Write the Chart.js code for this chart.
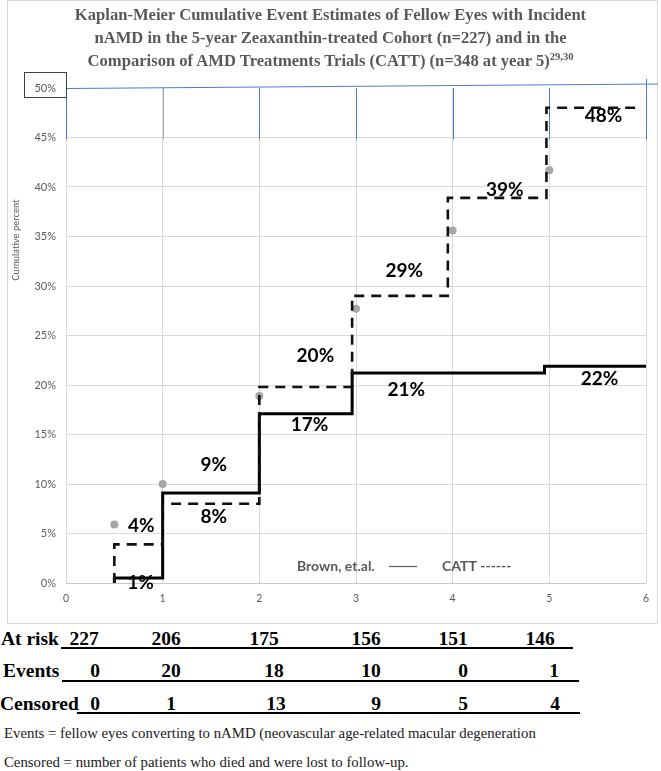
<!DOCTYPE html>
<html>
<head>
<meta charset="utf-8">
<script src="https://cdn.jsdelivr.net/npm/chart.js@4.4.1/dist/chart.umd.min.js"></script>
<style>
  body { margin: 0; background: #fff; }
  #page { position: relative; width: 661px; height: 771px; overflow: hidden; background: #fff; }
  #frame { position: absolute; left: 7px; top: 0; width: 651px; height: 624px; border: 1px solid #d9d9d9; box-sizing: border-box; }
  #title { position: absolute; left: 0; top: 3px; width: 661px; text-align: center;
           font: bold 16.6px "Liberation Serif", "Times New Roman", serif; color: #595959; line-height: 23px; }
  #title sup { font-size: 10.5px; line-height: 0; vertical-align: 6px; }
  #chartBox { position: absolute; left: 0; top: 0; width: 661px; height: 625px; }
  .cell { position: absolute; font: bold 19.5px "Liberation Serif", "Times New Roman", serif; color: #000; line-height: 19px; white-space: nowrap; }
  .rule { position: absolute; height: 2px; background: #000; }
  .note { position: absolute; left: 4px; font: 14.8px "Liberation Serif", "Times New Roman", serif; color: #1a1a1a; line-height: 15px; white-space: nowrap; }
</style>
</head>
<body>
<div id="page">
  <div id="frame"></div>
  <div id="chartBox"><canvas id="km-chart"></canvas></div>
  <div id="title">Kaplan-Meier Cumulative Event Estimates of Fellow Eyes with Incident<br>nAMD in the 5-year Zeaxanthin-treated Cohort (n=227) and in the<br>Comparison of AMD Treatments Trials (CATT) (n=348 at year 5)<sup>29,30</sup></div>
  <div id="table"></div>
  <div class="note" style="top:726px">Events = fellow eyes converting to nAMD (neovascular age-related macular degeneration</div>
  <div class="note" style="top:755px">Censored = number of patients who died and were lost to follow-up.</div>
</div>
<script>
// years on the x axis
const yearTicks = [0, 1, 2, 3, 4, 5, 6];

// Brown, et.al. (solid) - time of step, cumulative % from that time on
const brownTimes = [0.5, 0.5, 1, 2, 2.96, 4.95, 6];
const brownPct = [0, 0.5, 9.1, 17.1, 21.2, 21.9, 21.9];

// CATT (dashed)
const cattTimes = [0.5, 0.5, 1, 2, 2.96, 3.95, 4.97, 5.92];
const cattPct = [0, 3.9, 8.0, 19.8, 29.0, 38.9, 48.0, 48.0];

// grey markers
const dotTimes = [0.5, 1, 2, 3, 4, 5];
const dotPct = [5.9, 10, 18.9, 27.7, 35.6, 41.7];

// percent labels written on the plot
const labelText = ['4%', '1%', '9%', '8%', '17%', '20%', '21%', '22%', '29%', '39%', '48%'];
const labelTimes = [0.78, 0.77, 1.53, 1.53, 2.52, 2.58, 3.52, 5.52, 3.5, 4.54, 5.56];
const labelPct = [5.8, 0, 11.9, 6.7, 16.0, 22.9, 19.5, 20.6, 31.5, 39.7, 47.2];

// numbers under the chart
const rowNames = ['At risk', 'Events', 'Censored'];
const atRisk = [227, 206, 175, 156, 151, 146];
const events = [0, 20, 18, 10, 0, 1];
const censored = [0, 1, 13, 9, 5, 4];

const toPoints = (xs, ys) => xs.map((x, i) => ({ x: x, y: ys[i] }));

// table layout (pixels)
const rowLayout = [
    { top: 629, labelLeft: 1, ruleY: 647, ruleFrom: 61, ruleTo: 573, cols: [84, 166, 264, 366, 453, 540] },
    { top: 661, labelLeft: 3, ruleY: 680, ruleFrom: 62, ruleTo: 579, cols: [95, 171, 274, 371, 463, 554] },
    { top: 694, labelLeft: 0, ruleY: 712, ruleFrom: 77, ruleTo: 580, cols: [95, 171, 276, 376, 463, 555] }
];
const rowValues = [atRisk, events, censored];
const table = document.getElementById('table');
rowLayout.forEach((row, r) => {
    const name = document.createElement('div');
    name.className = 'cell';
    name.style.left = row.labelLeft + 'px';
    name.style.top = row.top + 'px';
    name.textContent = rowNames[r];
    table.appendChild(name);
    const rule = document.createElement('div');
    rule.className = 'rule';
    rule.style.left = row.ruleFrom + 'px';
    rule.style.width = (row.ruleTo - row.ruleFrom) + 'px';
    rule.style.top = row.ruleY + 'px';
    table.appendChild(rule);
    rowValues[r].forEach((v, i) => {
        const c = document.createElement('div');
        c.className = 'cell';
        c.style.top = row.top + 'px';
        c.style.left = (row.cols[i] - 30) + 'px';
        c.style.width = '60px';
        c.style.textAlign = 'center';
        c.textContent = v;
        table.appendChild(c);
    });
});

const grey = '#595959';

const overlayPlugin = {
    id: 'overlay',
    beforeDatasetsDraw(chart) {
        const ctx = chart.ctx;
        const xs = chart.scales.x, ys = chart.scales.y;
        const y50 = ys.getPixelForValue(50), y45 = ys.getPixelForValue(45);
        ctx.save();
        ctx.lineWidth = 1;
        yearTicks.forEach(v => {
            const px = Math.round(xs.getPixelForValue(v)) + 0.5;
            ctx.strokeStyle = v === 1 ? '#a6a6a6' : '#4a7bd0';
            ctx.beginPath();
            ctx.moveTo(px, v === 6 ? y50 - 9 : y50);
            ctx.lineTo(px, y45 + 2);
            ctx.stroke();
        });
        ctx.strokeStyle = '#4a7bd0';
        ctx.beginPath();
        ctx.moveTo(xs.getPixelForValue(0), y50 + 0.5);
        ctx.lineTo(658, y50 - 4);
        ctx.stroke();
        ctx.restore();
    },
    afterDraw(chart) {
        const ctx = chart.ctx;
        const xs = chart.scales.x, ys = chart.scales.y;
        ctx.save();
        // 50% box
        ctx.strokeStyle = '#404040';
        ctx.lineWidth = 1;
        ctx.strokeRect(24.5, 72.5, 42, 25);

        // y title
        ctx.fillStyle = grey;
        ctx.font = '9.5px Lato, "Noto Sans", sans-serif';
        ctx.textAlign = 'center';
        ctx.textBaseline = 'middle';
        ctx.translate(16, 240);
        ctx.rotate(-Math.PI / 2);
        ctx.fillText('Cumulative percent', 0, 0);
        ctx.setTransform(1, 0, 0, 1, 0, 0);
        ctx.scale(chart.currentDevicePixelRatio, chart.currentDevicePixelRatio);

        // value labels
        ctx.fillStyle = '#000';
        ctx.font = 'bold 19px Lato, "Noto Sans", sans-serif';
        labelText.forEach((t, i) => {
            ctx.fillText(t, xs.getPixelForValue(labelTimes[i]), ys.getPixelForValue(labelPct[i]));
        });

        // legend text
        ctx.fillStyle = grey;
        ctx.font = 'bold 14px Lato, "Noto Sans", sans-serif';
        ctx.textAlign = 'left';
        ctx.fillText('Brown, et.al.', 297, 566);
        ctx.fillText('CATT ------', 442, 566);
        ctx.strokeStyle = grey;
        ctx.lineWidth = 1.2;
        ctx.beginPath();
        ctx.moveTo(389, 566.5);
        ctx.lineTo(417, 566.5);
        ctx.stroke();
        ctx.restore();
    }
};

const ctx = document.getElementById('km-chart').getContext('2d');
const kmChart = new Chart(ctx, {
    type: 'scatter',
    data: {
        datasets: [
            {
                label: 'CATT',
                data: toPoints(cattTimes, cattPct),
                showLine: true,
                stepped: 'before',
                borderColor: '#111',
                borderWidth: 2.6,
                borderDash: [10, 7],
                pointRadius: 0,
                fill: false
            },
            {
                label: 'Brown, et.al.',
                data: toPoints(brownTimes, brownPct),
                showLine: true,
                stepped: 'before',
                borderColor: '#000',
                borderWidth: 3,
                pointRadius: 0,
                fill: false
            },
            {
                label: 'markers',
                data: toPoints(dotTimes, dotPct),
                showLine: false,
                pointRadius: 4,
                pointBackgroundColor: '#a6a6a6',
                pointBorderWidth: 0
            }
        ]
    },
    options: {
        responsive: true,
        maintainAspectRatio: false,
        animation: false,
        events: [],
        layout: { padding: { top: 88, right: 15, left: 0, bottom: 0 } },
        plugins: {
            legend: { display: false },
            title: { display: false },
            tooltip: { enabled: false }
        },
        scales: {
            x: {
                type: 'linear',
                min: 0,
                max: 6,
                afterFit: (scale) => { scale.height = 42; },
                afterBuildTicks: (scale) => { scale.ticks = yearTicks.map(v => ({ value: v })); },
                grid: { color: '#d9d9d9', drawTicks: false },
                border: { display: false },
                ticks: { color: grey, font: { family: 'Lato', size: 10.5 }, padding: 9 }
            },
            y: {
                min: 0,
                max: 50,
                afterFit: (scale) => { scale.width = 66; },
                grid: {
                    color: (c) => c.tick && c.tick.value === 50 ? 'rgba(0,0,0,0)' : (c.tick && c.tick.value === 0 ? '#c8c8c8' : '#d9d9d9'),
                    drawTicks: false
                },
                border: { display: false },
                ticks: {
                    stepSize: 5,
                    color: grey,
                    padding: 10,
                    font: { family: 'Lato', size: 11 },
                    callback: (v) => v + '%'
                }
            }
        }
    },
    plugins: [overlayPlugin]
});
</script>
</body>
</html>
